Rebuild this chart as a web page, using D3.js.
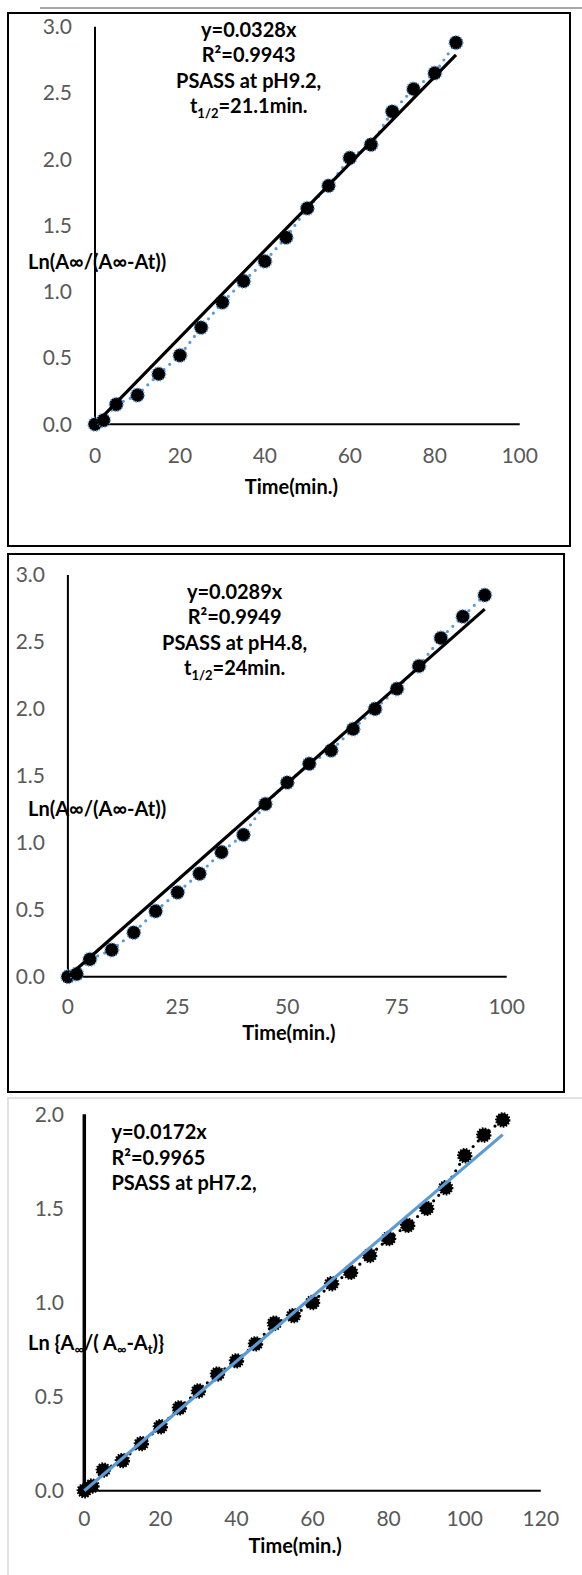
<!DOCTYPE html>
<html>
<head>
<meta charset="utf-8">
<script src="https://cdn.jsdelivr.net/npm/d3@7"></script>
<style>
  body { margin: 0; background: #fff; }
  svg { display: block; font-family: Lato, "Open Sans", sans-serif; }
  .tick-lbl { fill: #595959; font-size: 21px; }
  .ttl { fill: #000; font-weight: bold; font-size: 20px; }
</style>
</head>
<body>
<svg id="fig" width="582" height="1575"></svg>
<script>
// panel 1, pH 9.2
var time1 = [0, 2, 5, 10, 15, 20, 25, 30, 35, 40, 45, 50, 55, 60, 65, 70, 75, 80, 85];
var ln1 = [0, 0.03, 0.15, 0.22, 0.38, 0.52, 0.73, 0.92, 1.08, 1.23, 1.41, 1.63, 1.80, 2.01, 2.11, 2.36, 2.53, 2.65, 2.88];
var slope1 = 0.0328;
var xticks1 = [0, 20, 40, 60, 80, 100];

// panel 2, pH 4.8
var time2 = [0, 2, 5, 10, 15, 20, 25, 30, 35, 40, 45, 50, 55, 60, 65, 70, 75, 80, 85, 90, 95];
var ln2 = [0, 0.02, 0.13, 0.20, 0.33, 0.49, 0.63, 0.77, 0.93, 1.06, 1.29, 1.45, 1.59, 1.69, 1.85, 2.00, 2.15, 2.32, 2.53, 2.69, 2.85];
var slope2 = 0.0289;
var xticks2 = [0, 25, 50, 75, 100];

// panel 3, pH 7.2
var time3 = [0, 2, 5, 10, 15, 20, 25, 30, 35, 40, 45, 50, 55, 60, 65, 70, 75, 80, 85, 90, 95, 100, 105, 110];
var ln3 = [0, 0.025, 0.11, 0.16, 0.25, 0.34, 0.44, 0.53, 0.62, 0.69, 0.78, 0.89, 0.93, 1.00, 1.10, 1.16, 1.25, 1.34, 1.41, 1.50, 1.61, 1.78, 1.89, 1.97];
var slope3 = 0.0172;
var xticks3 = [0, 20, 40, 60, 80, 100, 120];

var yticks = [0, 0.5, 1.0, 1.5, 2.0, 2.5, 3.0];
var yticks3 = [0, 0.5, 1.0, 1.5, 2.0];

var blue = '#5b9bd5';
var svg = d3.select('#fig');

// faint rule above first box
svg.append('line')
    .attr('x1', 40).attr('x2', 582).attr('y1', 8).attr('y2', 8)
    .attr('stroke', '#8a8a8a').attr('stroke-width', 1.5);

// frames
svg.append('rect').attr('x', 8).attr('y', 13).attr('width', 562).attr('height', 533)
    .attr('fill', 'none').attr('stroke', '#000').attr('stroke-width', 2);
svg.append('rect').attr('x', 8).attr('y', 554).attr('width', 556).attr('height', 538)
    .attr('fill', 'none').attr('stroke', '#000').attr('stroke-width', 2);
svg.append('path').attr('d', 'M8,1575 V1098 H582')
    .attr('fill', 'none').attr('stroke', '#d9d9d9').attr('stroke-width', 1.5);

function drawPanel(p) {
    var g = svg.append('g');
    var x = d3.scaleLinear().domain([0, p.xmax]).range([p.left, p.right]);
    var y = d3.scaleLinear().domain([0, p.ymax]).range([p.bottom, p.top]);

    // tick labels
    g.selectAll('.yl').data(p.yticks).enter().append('text')
        .attr('class', 'tick-lbl')
        .attr('x', p.ylabX).attr('y', function(d) { return y(d); })
        .attr('dy', '0.35em').attr('text-anchor', 'end')
        .text(d3.format('.1f'));
    g.selectAll('.xl').data(p.xticks).enter().append('text')
        .attr('class', 'tick-lbl')
        .attr('x', function(d) { return x(d); }).attr('y', p.bottom + p.xlabDy)
        .attr('dy', '0.35em').attr('text-anchor', 'middle')
        .text(function(d) { return d; });

    // axes
    g.append('line').attr('x1', x(0)).attr('x2', x(0)).attr('y1', y(p.ymax)).attr('y2', y(0))
        .attr('stroke', '#000').attr('stroke-width', p.yAxisW);
    g.append('line').attr('x1', x(0)).attr('x2', x(p.xmax)).attr('y1', y(0)).attr('y2', y(0))
        .attr('stroke', '#000').attr('stroke-width', 2);

    var pts = p.t.map(function(d, i) { return [d, p.v[i]]; });

    // series, dotted
    g.append('path').datum(pts)
        .attr('d', d3.line().x(function(d) { return x(d[0]); }).y(function(d) { return y(d[1]); }))
        .attr('fill', 'none').attr('stroke', p.dotCol).attr('stroke-width', 3.2)
        .attr('stroke-linecap', 'round').attr('stroke-dasharray', '0,7.5');

    // markers
    g.selectAll('.pt').data(pts).enter().append('circle')
        .attr('cx', function(d) { return x(d[0]); })
        .attr('cy', function(d) { return y(d[1]); })
        .attr('r', p.r)
        .attr('fill', '#000')
        .attr('stroke', p.mkStroke).attr('stroke-width', p.mkStrokeW)
        .attr('stroke-dasharray', p.mkDash);

    // linear fit through origin
    var tEnd = p.t[p.t.length - 1];
    g.append('line')
        .attr('x1', x(0)).attr('y1', y(0))
        .attr('x2', x(tEnd)).attr('y2', y(p.slope * tEnd))
        .attr('stroke', p.fitCol).attr('stroke-width', 3.2);

    // titles
    g.append('text').attr('class', 'ttl')
        .attr('x', (p.left + p.right) / 2 + p.xtDx).attr('y', p.xtY).attr('dy', '0.35em')
        .attr('text-anchor', 'middle').text('Time(min.)');

    var yt = g.append('text').attr('class', 'ttl')
        .attr('x', 28).attr('y', p.ytY).attr('dy', '0.35em');
    p.ytitle(yt);

    // annotation
    var ann = g.append('g');
    p.ann.forEach(function(line, i) {
        var t = ann.append('text').attr('class', 'ttl')
            .attr('x', p.annX).attr('y', p.annY + i * 25.3).attr('dy', '0.35em')
            .attr('text-anchor', p.annAnchor);
        line(t);
    });
}

function plain(s) { return function(t) { t.text(s); }; }
function halfLife(v) {
    return function(t) {
        t.append('tspan').text('t');
        t.append('tspan').attr('font-size', '13px').attr('dy', '5').text('1/2');
        t.append('tspan').attr('dy', '-5').text('=' + v + 'min.');
    };
}
function lnTitle(t) { t.text('Ln(A\u221e/(A\u221e-At))'); }

drawPanel({
    t: time1, v: ln1, slope: slope1, xmax: 100, ymax: 3,
    xticks: xticks1, yticks: yticks,
    left: 95, right: 519.7, top: 26.7, bottom: 424.3,
    ylabX: 72, xlabDy: 31, yAxisW: 2,
    xtDx: -16, xtY: 487, ytY: 261.7, ytitle: lnTitle,
    dotCol: blue, fitCol: '#000', r: 6.8,
    mkStroke: blue, mkStrokeW: 1.6, mkDash: '1.2,1.6',
    annX: 248.7, annY: 30, annAnchor: 'middle',
    ann: [plain('y=0.0328x'), plain('R\u00b2=0.9943'), plain('PSASS at pH9.2,'), halfLife('21.1')]
});

drawPanel({
    t: time2, v: ln2, slope: slope2, xmax: 100, ymax: 3,
    xticks: xticks2, yticks: yticks,
    left: 67.9, right: 506.7, top: 575, bottom: 976.7,
    ylabX: 45, xlabDy: 30, yAxisW: 2,
    xtDx: 1.5, xtY: 1033, ytY: 809.3, ytitle: lnTitle,
    dotCol: blue, fitCol: '#000', r: 6.8,
    mkStroke: blue, mkStrokeW: 1.6, mkDash: '1.2,1.6',
    annX: 234.6, annY: 592, annAnchor: 'middle',
    ann: [plain('y=0.0289x'), plain('R\u00b2=0.9949'), plain('PSASS at pH4.8,'), halfLife('24')]
});

drawPanel({
    t: time3, v: ln3, slope: slope3, xmax: 120, ymax: 2,
    xticks: xticks3, yticks: yticks3,
    left: 84.3, right: 540.8, top: 1114.3, bottom: 1490.7,
    ylabX: 64, xlabDy: 27.6, yAxisW: 3.5,
    xtDx: -17.5, xtY: 1546, ytY: 1343,
    ytitle: function(t) {
        t.append('tspan').text('Ln {A');
        t.append('tspan').attr('font-size', '13px').attr('dy', '4').text('\u221e');
        t.append('tspan').attr('dy', '-4').text('/( A');
        t.append('tspan').attr('font-size', '13px').attr('dy', '4').text('\u221e');
        t.append('tspan').attr('dy', '-4').text('-A');
        t.append('tspan').attr('font-size', '13px').attr('dy', '4').text('t');
        t.append('tspan').attr('dy', '-4').text(')}');
    },
    dotCol: '#000', fitCol: blue, r: 6.6,
    mkStroke: '#000', mkStrokeW: 2.2, mkDash: '1.6,1.3',
    annX: 111.4, annY: 1132.3, annAnchor: 'start',
    ann: [plain('y=0.0172x'), plain('R\u00b2=0.9965'), plain('PSASS at pH7.2,')]
});
</script>
</body>
</html>
